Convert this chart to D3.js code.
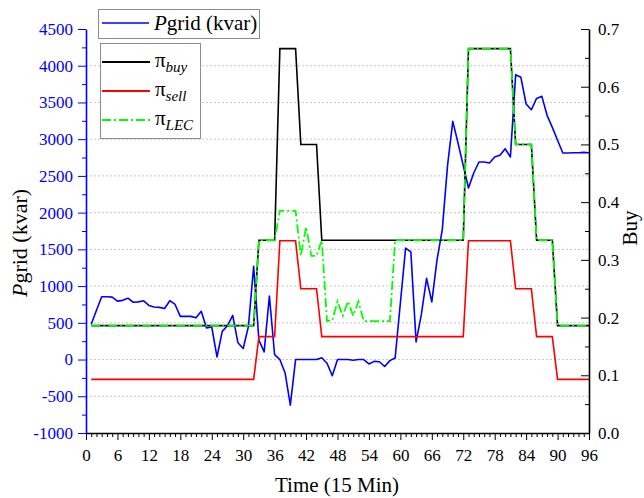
<!DOCTYPE html>
<html>
<head>
<meta charset="utf-8">
<script src="https://cdn.jsdelivr.net/npm/d3@7"></script>
<style>
  body { margin: 0; background: #fff; }
  svg { display: block; }
  text { font-family: "Liberation Serif", "Times New Roman", serif; }
</style>
</head>
<body>
<svg id="chart" width="644" height="498"></svg>
<script>
// Time slots (15-minute intervals over one day)
const timeSlots = [
  1, 2, 3, 4, 5, 6, 7, 8, 9, 10, 11, 12, 13, 14, 15, 16, 17, 18, 19, 20,
  21, 22, 23, 24, 25, 26, 27, 28, 29, 30, 31, 32, 33, 34, 35, 36, 37, 38, 39, 40,
  41, 42, 43, 44, 45, 46, 47, 48, 49, 50, 51, 52, 53, 54, 55, 56, 57, 58, 59, 60,
  61, 62, 63, 64, 65, 66, 67, 68, 69, 70, 71, 72, 73, 74, 75, 76, 77, 78, 79, 80,
  81, 82, 83, 84, 85, 86, 87, 88, 89, 90, 91, 92, 93, 94, 95, 96
];

// Power exchanged with the grid (kvar)
const pGrid = [
  480, 670, 855, 855, 850, 795, 806, 835, 780, 785,
  800, 737, 715, 710, 695, 801, 750, 588, 588, 588,
  570, 656, 429, 443, 35, 383, 460, 601, 228, 150,
  451, 1268, 265, 105, 865, 66, 0, -183, -620, 0,
  0, 0, 0, 0, 25, -50, -220, 0, 0, 0,
  -10, 0, 0, -60, -25, -30, -95, -15, 21, 770,
  1518, 1465, 240, 611, 1105, 785, 1360, 1768, 2640, 3242,
  2948, 2640, 2335, 2540, 2689, 2689, 2675, 2757, 2780, 2870,
  2757, 3878, 3842, 3479, 3401, 3555, 3583, 3325, 3160, 2985,
  2812, 2812, 2815, 2816, 2820, 2815
];

// Grid purchase price
const piBuy = [
  0.186, 0.186, 0.186, 0.186, 0.186, 0.186, 0.186, 0.186, 0.186, 0.186,
  0.186, 0.186, 0.186, 0.186, 0.186, 0.186, 0.186, 0.186, 0.186, 0.186,
  0.186, 0.186, 0.186, 0.186, 0.186, 0.186, 0.186, 0.186, 0.186, 0.186,
  0.186, 0.186, 0.334, 0.334, 0.334, 0.334, 0.666, 0.666, 0.666, 0.666,
  0.5, 0.5, 0.5, 0.5, 0.334, 0.334, 0.334, 0.334, 0.334, 0.334,
  0.334, 0.334, 0.334, 0.334, 0.334, 0.334, 0.334, 0.334, 0.334, 0.334,
  0.334, 0.334, 0.334, 0.334, 0.334, 0.334, 0.334, 0.334, 0.334, 0.334,
  0.334, 0.334, 0.666, 0.666, 0.666, 0.666, 0.666, 0.666, 0.666, 0.666,
  0.666, 0.5, 0.5, 0.5, 0.5, 0.334, 0.334, 0.334, 0.334, 0.186,
  0.186, 0.186, 0.186, 0.186, 0.186, 0.186
];

// Grid selling price
const piSell = [
  0.093, 0.093, 0.093, 0.093, 0.093, 0.093, 0.093, 0.093, 0.093, 0.093,
  0.093, 0.093, 0.093, 0.093, 0.093, 0.093, 0.093, 0.093, 0.093, 0.093,
  0.093, 0.093, 0.093, 0.093, 0.093, 0.093, 0.093, 0.093, 0.093, 0.093,
  0.093, 0.093, 0.167, 0.167, 0.167, 0.167, 0.333, 0.333, 0.333, 0.333,
  0.25, 0.25, 0.25, 0.25, 0.167, 0.167, 0.167, 0.167, 0.167, 0.167,
  0.167, 0.167, 0.167, 0.167, 0.167, 0.167, 0.167, 0.167, 0.167, 0.167,
  0.167, 0.167, 0.167, 0.167, 0.167, 0.167, 0.167, 0.167, 0.167, 0.167,
  0.167, 0.167, 0.333, 0.333, 0.333, 0.333, 0.333, 0.333, 0.333, 0.333,
  0.333, 0.25, 0.25, 0.25, 0.25, 0.167, 0.167, 0.167, 0.167, 0.093,
  0.093, 0.093, 0.093, 0.093, 0.093, 0.093
];

// Local energy community price
const piLEC = [
  0.186, 0.186, 0.186, 0.186, 0.186, 0.186, 0.186, 0.186, 0.186, 0.186,
  0.186, 0.186, 0.186, 0.186, 0.186, 0.186, 0.186, 0.186, 0.186, 0.186,
  0.186, 0.186, 0.186, 0.186, 0.186, 0.186, 0.186, 0.186, 0.186, 0.186,
  0.186, 0.186, 0.334, 0.334, 0.334, 0.334, 0.385, 0.385, 0.385, 0.385,
  0.307, 0.357, 0.307, 0.307, 0.334, 0.194, 0.195, 0.228, 0.203, 0.228,
  0.203, 0.228, 0.194, 0.194, 0.194, 0.194, 0.194, 0.194, 0.334, 0.334,
  0.334, 0.334, 0.334, 0.334, 0.334, 0.334, 0.334, 0.334, 0.334, 0.334,
  0.334, 0.334, 0.666, 0.666, 0.666, 0.666, 0.666, 0.666, 0.666, 0.666,
  0.666, 0.5, 0.5, 0.5, 0.5, 0.334, 0.334, 0.334, 0.334, 0.186,
  0.186, 0.186, 0.186, 0.186, 0.186, 0.186
];

// Axis ticks
const xTicks = [0, 6, 12, 18, 24, 30, 36, 42, 48, 54, 60, 66, 72, 78, 84, 90, 96];
const leftTicks = [-1000, -500, 0, 500, 1000, 1500, 2000, 2500, 3000, 3500, 4000, 4500];
const rightTicks = [0.0, 0.1, 0.2, 0.3, 0.4, 0.5, 0.6, 0.7];

const svg = d3.select("#chart");
const BLUE = "#0000ff";
const SERIF = '"Liberation Serif", "Times New Roman", serif';

const x = d3.scaleLinear().domain([0, 96]).range([86, 589]);
const yL = d3.scaleLinear().domain([-1000, 4500]).range([433, 29]);
const yR = d3.scaleLinear().domain([0, 0.7]).range([433, 29]);

// Plain hyphen-minus for negative tick labels
const fmtInt = d => String(Math.round(d));

// Dotted horizontal grid at the left-axis major ticks
svg.append("g").selectAll("line")
  .data(leftTicks.filter(v => v > -1000 && v < 4500))
  .join("line")
  .attr("x1", x(0)).attr("x2", x(96))
  .attr("y1", d => yL(d)).attr("y2", d => yL(d))
  .attr("stroke", "#c8c8c8").attr("stroke-width", 1)
  .attr("stroke-dasharray", "2,2");

// Series
const pts = arr => arr.map((v, i) => [timeSlots[i], v]);
const lineL = d3.line().x(d => x(d[0])).y(d => yL(d[1]));
const lineR = d3.line().x(d => x(d[0])).y(d => yR(d[1]));

svg.append("path").datum(pts(pGrid)).attr("d", lineL)
  .attr("fill", "none").attr("stroke", BLUE).attr("stroke-width", 1.6)
  .attr("stroke-linejoin", "round");
svg.append("path").datum(pts(piBuy)).attr("d", lineR)
  .attr("fill", "none").attr("stroke", "#000").attr("stroke-width", 1.6);
svg.append("path").datum(pts(piSell)).attr("d", lineR)
  .attr("fill", "none").attr("stroke", "#ff0000").attr("stroke-width", 1.6);
svg.append("path").datum(pts(piLEC)).attr("d", lineR)
  .attr("fill", "none").attr("stroke", "#00ff00").attr("stroke-width", 1.8)
  .attr("stroke-dasharray", "9,3,2,3");

// Bottom axis
const minorX = d3.range(0, 97).filter(v => v % 6 !== 0);
svg.append("g").attr("transform", "translate(0,433)")
  .call(d3.axisBottom(x).tickValues(minorX).tickSize(4).tickFormat("").tickSizeOuter(0))
  .call(g => g.select(".domain").remove());
const gx = svg.append("g").attr("transform", "translate(0,433)")
  .call(d3.axisBottom(x).tickValues(xTicks).tickSize(7).tickPadding(9)
    .tickFormat(fmtInt).tickSizeOuter(0));
gx.selectAll("text").attr("font-size", 17).style("font-family", SERIF).attr("fill", "#000");
gx.select(".domain").attr("stroke-width", 1.3);

// Left axis (blue)
const minorL = d3.range(-750, 4500, 500);
const gLm = svg.append("g").attr("transform", "translate(86,0)")
  .call(d3.axisLeft(yL).tickValues(minorL).tickSize(4).tickFormat("").tickSizeOuter(0));
gLm.select(".domain").remove();
gLm.selectAll("line").attr("stroke", BLUE);
const gL = svg.append("g").attr("transform", "translate(86,0)")
  .call(d3.axisLeft(yL).tickValues(leftTicks).tickSize(8).tickPadding(5)
    .tickFormat(fmtInt).tickSizeOuter(0));
gL.select(".domain").attr("stroke", BLUE).attr("stroke-width", 1.6);
gL.selectAll("line").attr("stroke", BLUE);
gL.selectAll("text").attr("font-size", 17).style("font-family", SERIF).attr("fill", BLUE);

// Right axis (ticks pointing inward)
const minorR = [0.05, 0.15, 0.25, 0.35, 0.45, 0.55, 0.65];
const gRm = svg.append("g").attr("transform", "translate(589,0)")
  .call(d3.axisRight(yR).tickValues(minorR).tickSize(-4).tickFormat("").tickSizeOuter(0));
gRm.select(".domain").remove();
const gR = svg.append("g").attr("transform", "translate(589,0)")
  .call(d3.axisRight(yR).tickValues(rightTicks).tickSize(-8).tickPadding(9)
    .tickFormat(d => d.toFixed(1)).tickSizeOuter(0));
gR.select(".domain").attr("stroke-width", 1.6);
gR.selectAll("text").attr("font-size", 17).style("font-family", SERIF).attr("fill", "#000");

// Axis titles
const leftTitle = svg.append("text")
  .attr("transform", "translate(27,243) rotate(-90)")
  .attr("text-anchor", "middle").attr("font-size", 22).attr("fill", "#000");
leftTitle.append("tspan").attr("font-style", "italic").text("P");
leftTitle.append("tspan").text("grid (kvar)");

svg.append("text").attr("x", 337).attr("y", 492)
  .attr("text-anchor", "middle").attr("font-size", 21).attr("fill", "#000")
  .text("Time (15 Min)");

svg.append("text")
  .attr("transform", "translate(637,228) rotate(-90)")
  .attr("text-anchor", "middle").attr("font-size", 21).attr("fill", "#000")
  .text("Buy");

// Legend for the grid power
const lg1 = svg.append("g");
lg1.append("rect").attr("x", 98.5).attr("y", 9.5).attr("width", 161).attr("height", 29)
  .attr("fill", "#fff").attr("stroke", "#8c8c8c").attr("stroke-width", 1);
lg1.append("line").attr("x1", 102).attr("x2", 149).attr("y1", 23).attr("y2", 23)
  .attr("stroke", BLUE).attr("stroke-width", 1.6);
const t1 = lg1.append("text").attr("x", 154).attr("y", 30).attr("font-size", 21).attr("fill", "#000");
t1.append("tspan").attr("font-style", "italic").text("P");
t1.append("tspan").text("grid (kvar)");

// Legend for the prices
const priceItems = [
  { sub: "buy", color: "#000", dash: null, y: 62 },
  { sub: "sell", color: "#ff0000", dash: null, y: 91 },
  { sub: "LEC", color: "#00ff00", dash: "9,3,2,3", y: 120 }
];
const lg2 = svg.append("g");
lg2.append("rect").attr("x", 100.5).attr("y", 43.5).attr("width", 100).attr("height", 95)
  .attr("fill", "#fff").attr("stroke", "#8c8c8c").attr("stroke-width", 1);
priceItems.forEach(it => {
  lg2.append("line").attr("x1", 102).attr("x2", 150).attr("y1", it.y).attr("y2", it.y)
    .attr("stroke", it.color).attr("stroke-width", 1.8)
    .attr("stroke-dasharray", it.dash);
  const t = lg2.append("text").attr("x", 155).attr("y", it.y + 5).attr("font-size", 21).attr("fill", "#000");
  t.append("tspan").text("π");
  t.append("tspan").attr("font-style", "italic").attr("font-size", 15).attr("dy", 5).text(it.sub);
});
</script>
</body>
</html>
